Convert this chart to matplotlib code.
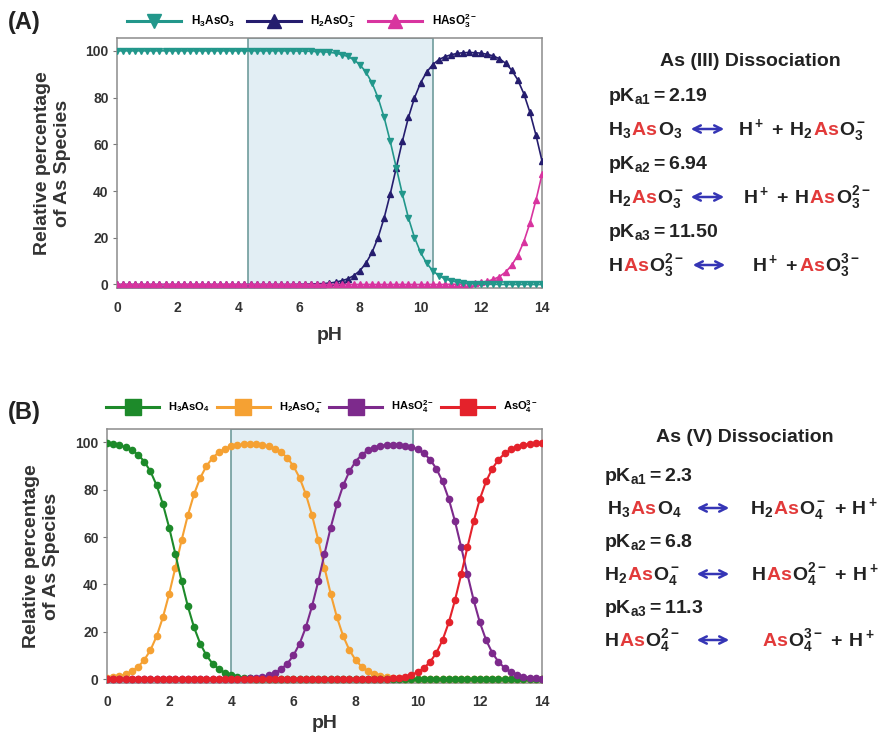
import matplotlib
matplotlib.use("Agg")
import matplotlib.pyplot as plt
from matplotlib.lines import Line2D
from matplotlib.patches import FancyArrowPatch

plt.rcParams["font.family"] = ["Liberation Sans", "DejaVu Sans"]
plt.rcParams["font.weight"] = "bold"
plt.rcParams["mathtext.fontset"] = "custom"
plt.rcParams["mathtext.rm"] = "Liberation Sans:bold"
plt.rcParams["mathtext.it"] = "Liberation Sans:bold"
plt.rcParams["mathtext.bf"] = "Liberation Sans:bold"
plt.rcParams["mathtext.default"] = "rm"

# pH grid of the plotted points
ph = [0.0, 0.2, 0.4, 0.6, 0.8, 1.0, 1.2, 1.4, 1.6, 1.8, 2.0, 2.2, 2.4, 2.6, 2.8,
      3.0, 3.2, 3.4, 3.6, 3.8, 4.0, 4.2, 4.4, 4.6, 4.8, 5.0, 5.2, 5.4, 5.6, 5.8,
      6.0, 6.2, 6.4, 6.6, 6.8, 7.0, 7.2, 7.4, 7.6, 7.8, 8.0, 8.2, 8.4, 8.6, 8.8,
      9.0, 9.2, 9.4, 9.6, 9.8, 10.0, 10.2, 10.4, 10.6, 10.8, 11.0, 11.2, 11.4,
      11.6, 11.8, 12.0, 12.2, 12.4, 12.6, 12.8, 13.0, 13.2, 13.4, 13.6, 13.8, 14.0]

# (A) As(III) species, %
h3aso3 = [100] * 30 + [
    99.9, 99.9, 99.8, 99.7, 99.6, 99.4, 99.0, 98.4, 97.6, 96.2, 94.1, 90.9,
    86.3, 79.9, 71.5, 61.3, 50.0, 38.7, 28.5, 20.1, 13.7, 9.1, 5.9, 3.8, 2.4,
    1.6, 1.0, 0.6, 0.4, 0.3, 0.2, 0.1, 0.1, 0, 0, 0, 0, 0, 0, 0, 0]
h2aso3 = [0] * 30 + [
    0.1, 0.1, 0.2, 0.3, 0.4, 0.6, 1.0, 1.6, 2.4, 3.8, 5.9, 9.1, 13.7, 20.1,
    28.5, 38.7, 50.0, 61.3, 71.5, 79.9, 86.3, 90.9, 94.1, 96.2, 97.5, 98.3,
    98.9, 99.2, 99.3, 99.2, 99.0, 98.5, 97.8, 96.6, 94.7, 91.8, 87.6, 81.7,
    73.8, 64.0, 52.9]
haso3 = [0] * 55 + [
    0.1, 0.1, 0.2, 0.4, 0.6, 0.9, 1.4, 2.2, 3.4, 5.3, 8.2, 12.4, 18.3, 26.2,
    36.0, 47.1]

# (B) As(V) species, %
h3aso4 = [
    99.4, 99.1, 98.6, 97.8, 96.6, 94.7, 91.8, 87.6, 81.7, 73.8, 64.0, 52.9,
    41.4, 30.9, 22.0, 15.1, 10.1, 6.6, 4.3, 2.7, 1.7, 1.1, 0.7, 0.4, 0.3, 0.2,
    0.1, 0.1] + [0] * 43
h2aso4 = [
    0.6, 0.9, 1.4, 2.2, 3.4, 5.3, 8.2, 12.4, 18.3, 26.2, 36.0, 47.1, 58.6, 69.1,
    78.0, 84.9, 89.9, 93.4, 95.7, 97.2, 98.2, 98.7, 99.0, 99.1, 99.0, 98.7,
    98.2, 97.2, 95.7, 93.4, 89.9, 84.9, 78.0, 69.1, 58.6, 47.1, 36.0, 26.2,
    18.3, 12.4, 8.2, 5.3, 3.4, 2.2, 1.4, 0.9, 0.6, 0.4, 0.2, 0.1, 0.1] + [0] * 20
haso4 = [0] * 20 + [
    0.1, 0.2, 0.3, 0.5, 0.7, 1.1, 1.7, 2.7, 4.3, 6.6, 10.1, 15.1, 22.0, 30.9,
    41.4, 52.9, 64.0, 73.8, 81.7, 87.6, 91.8, 94.7, 96.5, 97.7, 98.4, 98.8,
    98.9, 98.9, 98.5, 97.9, 96.9, 95.2, 92.6, 88.8, 83.4, 76.0, 66.6, 55.7,
    44.3, 33.4, 24.0, 16.6, 11.2, 7.4, 4.8, 3.1, 2.0, 1.2, 0.8, 0.5, 0.3]
aso4 = [0] * 41 + [
    0.1, 0.1, 0.1, 0.2, 0.3, 0.5, 0.8, 1.2, 2.0, 3.1, 4.8, 7.4, 11.2, 16.6,
    24.0, 33.4, 44.3, 55.7, 66.6, 76.0, 83.4, 88.8, 92.6, 95.2, 96.9, 98.0,
    98.8, 99.2, 99.5, 99.7]

labels_a = ["H$_3$AsO$_3$", "H$_2$AsO$_3^-$", "HAsO$_3^{2-}$"]
labels_b = ["H$_3$AsO$_4$", "H$_2$AsO$_4^-$", "HAsO$_4^{2-}$", "AsO$_4^{3-}$"]
shade_a = (4.3, 10.4)
shade_b = (4.0, 9.85)

col_a = ["#22978b", "#251d6e", "#d8349f"]
col_b = ["#1d8a2a", "#f5a133", "#7d2a8c", "#e4222b"]

RED = "#e23a3a"
BLK = "#222222"
ARW = "#3535b5"

W, H = 887, 738
fig = plt.figure(figsize=(8.87, 7.38), dpi=100)


def box(l, t, r, b):
    return [l / W, 1 - b / H, (r - l) / W, (b - t) / H]


def style(ax, shade, pad):
    ax.axvspan(shade[0], shade[1], facecolor="#e2eef4", edgecolor="#6f9c9c",
               lw=1.2, zorder=0)
    ax.set_xlim(0, 14)
    ax.set_ylim(-1.5, 105.5)
    ax.set_xticks(range(0, 15, 2))
    ax.set_yticks(range(0, 101, 20))
    for s in ax.spines.values():
        s.set_color("#8c8c8c")
        s.set_linewidth(1.1)
    ax.tick_params(axis="x", length=0, pad=9, labelsize=10, labelcolor="#333333")
    ax.tick_params(axis="y", length=3, width=0.8, color="#777777", pad=3,
                   labelsize=10, labelcolor="#333333")
    ax.set_ylabel("Relative percentage\nof As Species", fontsize=14,
                  fontweight="bold", color="#333333")
    ax.yaxis.set_label_coords(-0.108, 0.5)
    ax.set_xlabel("pH", fontsize=14, fontweight="bold", color="#333333",
                  labelpad=pad)


# ---- panel A
axA = fig.add_axes(box(117, 38, 542, 288))
style(axA, shade_a, 9)
axA.plot(ph, h2aso3, color=col_a[1], marker="^", ms=4, lw=1.2, zorder=3)
axA.plot(ph, haso3, color=col_a[2], marker="^", ms=4, lw=1.2, zorder=3)
axA.plot(ph, h3aso3, color=col_a[0], marker="v", ms=4, lw=1.2, zorder=3)
hA = [Line2D([], [], color=c, marker=m, ms=10, lw=2.2)
      for c, m in zip(col_a, ["v", "^", "^"])]
fig.legend(hA, labels_a, loc="center", bbox_to_anchor=(302 / W, 1 - 21 / H),
           ncol=3, frameon=False, fontsize=8.5, handlelength=4.6,
           handletextpad=0.8, columnspacing=1.0)
fig.text(8 / W, 1 - 22 / H, "(A)", fontsize=17, fontweight="bold",
         va="center", color="#222222")

# ---- panel B
axB = fig.add_axes(box(107, 429, 542, 683))
style(axB, shade_b, 4)
axB.plot(ph, h2aso4, color=col_b[1], marker="o", ms=4.5, lw=1.5, zorder=3)
axB.plot(ph, h3aso4, color=col_b[0], marker="o", ms=4.5, lw=1.5, zorder=3)
axB.plot(ph, haso4, color=col_b[2], marker="o", ms=4.5, lw=1.5, zorder=3)
axB.plot(ph, aso4, color=col_b[3], marker="o", ms=4.5, lw=1.5, zorder=3)
hB = [Line2D([], [], color=c, marker="s", ms=11, lw=2.2) for c in col_b]
fig.legend(hB, labels_b, loc="center", bbox_to_anchor=(322 / W, 1 - 407 / H),
           ncol=4, frameon=False, fontsize=8, handlelength=4.8,
           handletextpad=0.8, columnspacing=0.6)
fig.text(8 / W, 1 - 412 / H, "(B)", fontsize=17, fontweight="bold",
         va="center", color="#222222")

# ---- dissociation text on the right
renderer = fig.canvas.get_renderer()


def write(x, yc, pieces, size=14):
    # pieces are math strings drawn one after another on a shared baseline
    for s, c in pieces:
        t = fig.text(x / W, 1 - (yc + 6) / H, "$" + s + "$", color=c,
                     fontsize=size, va="baseline", ha="left")
        x += t.get_window_extent(renderer).width
    return x


def arrow(x1, x2, yc):
    fig.add_artist(FancyArrowPatch((x1 / W, 1 - yc / H), (x2 / W, 1 - yc / H),
                                   transform=fig.transFigure, arrowstyle="<->",
                                   mutation_scale=13, lw=1.8, color=ARW))


fig.text(750 / W, 1 - 62 / H, "As (III) Dissociation", fontsize=14,
         fontweight="bold", ha="center", va="center", color=BLK)
fig.text(745 / W, 1 - 438 / H, "As (V) Dissociation", fontsize=14,
         fontweight="bold", ha="center", va="center", color=BLK)

pka_a = ["pK_{a1} = 2.19", "pK_{a2} = 6.94", "pK_{a3} = 11.50"]
pka_b = ["pK_{a1} = 2.3", "pK_{a2} = 6.8", "pK_{a3} = 11.3"]
SP = "\\,+\\,"

for s, y in zip(pka_a, [95, 163, 231]):
    write(608, y, [(s, BLK)])
for s, y in zip(pka_b, [475, 541, 607]):
    write(604, y, [(s, BLK)])

# As(III) reactions
write(608, 129, [("H_3", BLK), ("As", RED), ("O_3", BLK)])
arrow(688, 727, 129)
write(738, 129, [("H^+" + SP + "H_2", BLK), ("As", RED), ("O_3^-", BLK)])

write(608, 197, [("H_2", BLK), ("As", RED), ("O_3^-", BLK)])
arrow(688, 727, 197)
write(743, 197, [("H^+" + SP + "H", BLK), ("As", RED), ("O_3^{2-}", BLK)])

write(608, 265, [("H", BLK), ("As", RED), ("O_3^{2-}", BLK)])
arrow(690, 728, 265)
write(752, 265, [("H^+" + SP, BLK), ("As", RED), ("O_3^{3-}", BLK)])

# As(V) reactions
write(607, 508, [("H_3", BLK), ("As", RED), ("O_4", BLK)])
arrow(694, 732, 508)
write(750, 508, [("H_2", BLK), ("As", RED), ("O_4^-" + SP + "H^+", BLK)])

write(604, 574, [("H_2", BLK), ("As", RED), ("O_4^-", BLK)])
arrow(694, 732, 574)
write(751, 574, [("H", BLK), ("As", RED), ("O_4^{2-}" + SP + "H^+", BLK)])

write(604, 640, [("H", BLK), ("As", RED), ("O_4^{2-}", BLK)])
arrow(694, 732, 640)
write(762, 640, [("As", RED), ("O_4^{3-}" + SP + "H^+", BLK)])

fig.savefig("out.png", dpi=100)
